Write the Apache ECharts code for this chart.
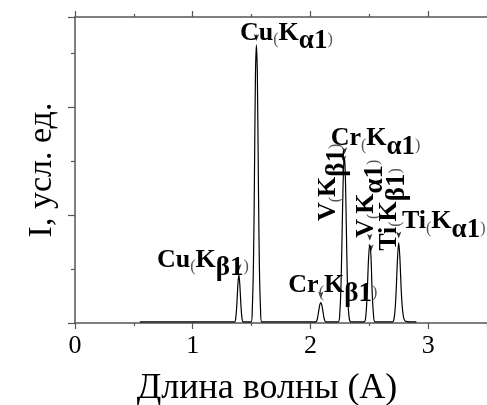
<!DOCTYPE html>
<html>
<head>
<meta charset="utf-8">
<script src="https://cdn.jsdelivr.net/npm/echarts@6/dist/echarts.min.js"></script>
<style>
  html, body { margin: 0; padding: 0; background: #fff; }
  #chart { width: 487px; height: 405px; }
</style>
</head>
<body>
<div id="chart"></div>
<script>
// X-ray emission spectrum: wavelength (Å) vs intensity (arb. units)
const wavelength = [
  0.55, 1.30,
  1.355, 1.365, 1.375, 1.384, 1.392, 1.400, 1.409, 1.419, 1.429,
  1.496, 1.506, 1.516, 1.524, 1.533, 1.541, 1.549, 1.558, 1.566, 1.576, 1.586,
  2.045, 2.058, 2.070, 2.080, 2.088, 2.096, 2.106, 2.118, 2.131,
  2.235, 2.250, 2.262, 2.272, 2.282, 2.290, 2.298, 2.308, 2.318, 2.330, 2.345,
  2.455, 2.470, 2.482, 2.494, 2.504, 2.514, 2.524, 2.536, 2.550,
  2.695, 2.712, 2.726, 2.740, 2.750, 2.760, 2.774, 2.790, 2.810, 2.90
];
const intensity = [
  0.02, 0.02,
  0.02, 0.08, 0.35, 0.72, 0.89, 0.72, 0.35, 0.08, 0.02,
  0.02, 0.25, 1.10, 2.60, 4.60, 5.15, 4.60, 2.60, 1.10, 0.25, 0.02,
  0.02, 0.07, 0.22, 0.34, 0.38, 0.34, 0.22, 0.07, 0.02,
  0.02, 0.20, 0.90, 2.00, 2.90, 3.05, 2.60, 1.40, 0.45, 0.08, 0.02,
  0.02, 0.12, 0.55, 1.20, 1.45, 1.25, 0.60, 0.15, 0.02,
  0.02, 0.10, 0.50, 1.20, 1.49, 1.20, 0.50, 0.12, 0.03, 0.02
];

// Identified lines: element, line, wavelength of the marked peak, its intensity
const lineElement = ['Cu', 'Cu', 'Cr', 'V', 'Cr', 'V', 'Ti', 'Ti'];
const lineName    = ['β1', 'α1', 'β1', 'β1', 'α1', 'α1', 'β1', 'α1'];
const linePos     = [1.392, 1.541, 2.088, 2.282, 2.290, 2.504, 2.514, 2.750];
const lineHeight  = [0.89, 5.15, 0.38, 2.90, 3.05, 1.45, 1.25, 1.49];

const xTicks = ['0', '1', '2', '3'];
const xTitle = 'Длина волны (A)';
const yTitle = 'I, усл. ед.';

// label placement for each line: centre offset in pixels from the peak mark
const labelLayout = [
  { dx: -36, dy: -15, vertical: false },
  { dx: 30, dy: -12, vertical: false },
  { dx: 12, dy: -17, vertical: false },
  { dx: -15, dy: 16, vertical: true },
  { dx: 31, dy: -20, vertical: false },
  { dx: -3, dy: -46, vertical: true },
  { dx: 18, dy: -46, vertical: true },
  { dx: 45, dy: -21, vertical: false }
];

const FONT = '"Liberation Serif", "DejaVu Serif", serif';
const AXIS_COLOR = '#555';

const spectrum = wavelength.map((x, i) => [x, intensity[i]]);
const marks = linePos.map((x, i) => [x, lineHeight[i]]);

const rich = {
  el: { fontFamily: FONT, fontWeight: 'bold', fontSize: 26, fill: '#000', lineHeight: 26, verticalAlign: 'top' },
  sub: { fontFamily: FONT, fontWeight: 'bold', fontSize: 27, fill: '#000', lineHeight: 26, padding: [8, 0, 0, 0], verticalAlign: 'top' },
  p: { fontFamily: FONT, fontWeight: 'normal', fontSize: 16, fill: '#555', lineHeight: 16, padding: [12, 0, 0, 0], verticalAlign: 'top' }
};

const axisCommon = {
  type: 'value',
  min: 0,
  max: 3.5,
  interval: 1,
  axisLine: { show: true, onZero: false, lineStyle: { color: AXIS_COLOR, width: 1.5 } },
  axisTick: { show: true, inside: false, length: 6, lineStyle: { color: AXIS_COLOR, width: 1.2 } },
  minorTick: { show: true, splitNumber: 2, length: 3, lineStyle: { color: AXIS_COLOR, width: 1.2 } },
  splitLine: { show: false },
  minorSplitLine: { show: false }
};

const chart = echarts.init(document.getElementById('chart'), null, { renderer: 'canvas' });
chart.setOption({
  animation: false,
  backgroundColor: '#fff',
  grid: { left: 75, top: 17, right: 0, bottom: 82, containLabel: false, outerBoundsMode: 'none' },
  xAxis: [
    Object.assign({}, axisCommon, {
      position: 'bottom',
      name: xTitle,
      nameLocation: 'middle',
      nameGap: 48,
      nameTextStyle: { fontFamily: FONT, fontSize: 36, color: '#000', padding: [0, 28, 0, 0] },
      axisLabel: {
        show: true,
        margin: 10,
        fontFamily: FONT,
        fontSize: 26,
        color: '#000',
        formatter: v => Math.abs(v - Math.round(v)) < 1e-6 && xTicks[Math.round(v)] !== undefined ? xTicks[Math.round(v)] : ''
      }
    }),
    Object.assign({}, axisCommon, {
      position: 'top',
      axisLabel: { show: false }
    })
  ],
  yAxis: {
    type: 'value',
    min: 0,
    max: 5.667,
    interval: 2,
    name: yTitle,
    nameLocation: 'middle',
    nameRotate: 90,
    nameGap: 16,
    nameTextStyle: { fontFamily: FONT, fontSize: 34, color: '#000' },
    axisLine: { show: true, onZero: false, lineStyle: { color: AXIS_COLOR, width: 1.5 } },
    axisTick: { show: true, inside: false, length: 7, lineStyle: { color: AXIS_COLOR, width: 1.2 } },
    minorTick: { show: true, splitNumber: 2, length: 4, lineStyle: { color: AXIS_COLOR, width: 1.2 } },
    axisLabel: { show: false },
    splitLine: { show: false },
    minorSplitLine: { show: false }
  },
  series: [
    {
      type: 'line',
      data: spectrum,
      showSymbol: false,
      smooth: 0.35,
      lineStyle: { color: '#000', width: 1.2 },
      z: 2
    },
    {
      type: 'scatter',
      data: marks,
      symbol: 'arrow',
      symbolSize: [4, 7],
      symbolRotate: 180,
      symbolOffset: [0, -4],
      itemStyle: { color: '#000' },
      z: 3
    }
  ]
});

// Line labels, placed from the peak positions through the axis scales
const labels = linePos.map((x, i) => {
  const p = chart.convertToPixel({ xAxisIndex: 0, yAxisIndex: 0 }, [x, lineHeight[i]]);
  const L = labelLayout[i];
  return {
    type: 'text',
    x: p[0] + L.dx,
    y: p[1] + L.dy,
    rotation: L.vertical ? Math.PI / 2 : 0,
    z: 10,
    style: {
      text: '{el|' + lineElement[i] + '}{p|(}{el|K}{sub|' + lineName[i] + '}{p|)}',
      rich: rich,
      align: 'center',
      verticalAlign: 'middle'
    }
  };
});
chart.setOption({ graphic: labels });
</script>
</body>
</html>
